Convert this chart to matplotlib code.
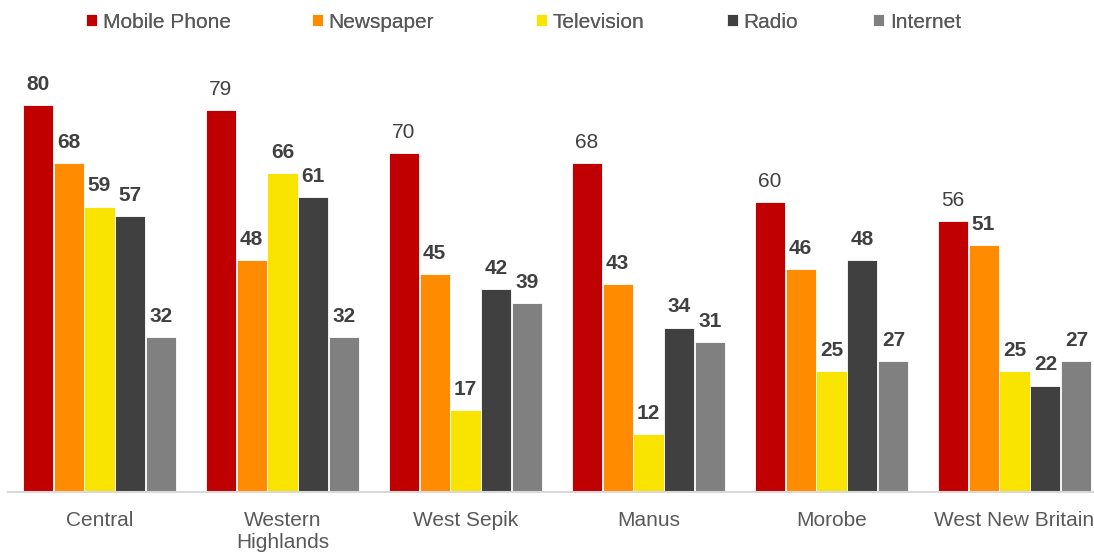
import numpy as np
import matplotlib.pyplot as plt

plt.rcParams['font.family'] = ['Liberation Sans', 'DejaVu Sans']

regions = ['Central', 'Western\nHighlands', 'West Sepik', 'Manus', 'Morobe', 'West New Britain']
series = ['Mobile Phone', 'Newspaper', 'Television', 'Radio', 'Internet']
mobile = [80, 79, 70, 68, 60, 56]
newspaper = [68, 48, 45, 43, 46, 51]
television = [59, 66, 17, 12, 25, 25]
radio = [57, 61, 42, 34, 48, 22]
internet = [32, 32, 39, 31, 27, 27]
values = [mobile, newspaper, television, radio, internet]
colors = ['#C00000', '#FF8C00', '#F9E300', '#404040', '#808080']

fig = plt.figure(figsize=(10.94, 5.53), dpi=100)
W, H = 1094, 553
ax = fig.add_axes([8 / W, 61 / H, (W - 8) / W, (492 - 60) / H])

x = np.arange(len(regions))
pitch = 0.169
width = 0.164
for i, (name, vals, c) in enumerate(zip(series, values, colors)):
    pos = x + (i - 2) * pitch
    bars = ax.bar(pos, vals, width, color=c, edgecolor='white', linewidth=0.6, label=name)
    for j, (b, v) in enumerate(zip(bars, vals)):
        weight = 'normal' if (i == 0 and j > 0) else 'bold'
        ax.annotate(str(v), (b.get_x() + b.get_width() / 2, v), xytext=(0, 8),
                    textcoords='offset points', ha='center', va='bottom',
                    fontsize=15, fontweight=weight, color='#404040')

ax.set_xlim(-0.5, 5.5 - 12 / 183)
ax.set_ylim(0, 89.3)
ax.set_xticks(x)
ax.set_xticklabels(regions, fontsize=15, color='#595959', linespacing=1.2)
ax.tick_params(axis='x', length=0, pad=14)
ax.set_yticks([])
for s in ['top', 'right', 'left']:
    ax.spines[s].set_visible(False)
ax.spines['bottom'].set_color('#D9D9D9')
ax.spines['bottom'].set_linewidth(1.5)

# legend entries placed one by one to keep Excel-like uneven spacing
handles, labels = ax.get_legend_handles_labels()
legend_x = [86, 312, 536, 727, 873]
for h, lab, lx in zip(handles, labels, legend_x):
    lg = fig.legend([h], [lab], loc='center left', bbox_to_anchor=(lx / W, 1 - 22 / H),
                    frameon=False, fontsize=15, handlelength=0.55, handleheight=0.55,
                    handletextpad=0.25, borderpad=0, borderaxespad=0, labelcolor='#595959')
    fig.add_artist(lg)

fig.savefig('out.png', dpi=100)
